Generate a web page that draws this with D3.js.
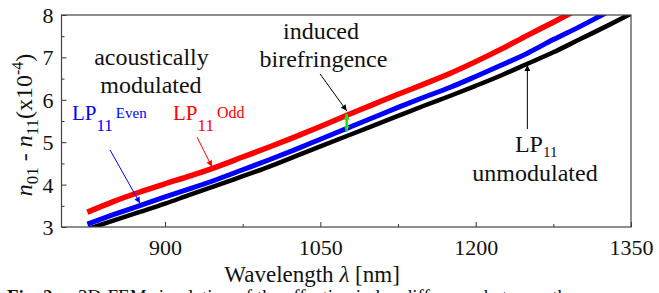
<!DOCTYPE html>
<html>
<head>
<meta charset="utf-8">
<script src="https://cdn.jsdelivr.net/npm/d3@7"></script>
<style>
  body { margin: 0; background: #fff; }
  svg text { font-family: "Liberation Serif", Tinos, "Times New Roman", Times, "DejaVu Serif", serif; }
</style>
</head>
<body>
<div id="chart"></div>
<script>
// wavelengths (nm) sampled along the curves
var wavelengths = [825, 850, 875, 900, 925, 950, 975, 1000, 1025, 1050, 1075, 1100,
                   1125, 1150, 1175, 1200, 1225, 1250, 1275, 1300, 1325, 1350];
// n01 - n11 (x10^-4)
var lpOdd   = [3.35, 3.60, 3.82, 4.02, 4.21, 4.42, 4.65, 4.88, 5.12, 5.37, 5.63, 5.88,
               6.13, 6.37, 6.62, 6.90, 7.20, 7.52, 7.83, 8.15, 8.48, 8.80];
var lpEven  = [3.07, 3.29, 3.50, 3.71, 3.91, 4.12, 4.35, 4.58, 4.82, 5.07, 5.32, 5.57,
               5.82, 6.06, 6.29, 6.55, 6.82, 7.10, 7.42, 7.72, 8.04, 8.36];
var lpUnmod = [2.95, 3.15, 3.35, 3.55, 3.77, 3.98, 4.20, 4.42, 4.66, 4.90, 5.14, 5.38,
               5.62, 5.86, 6.09, 6.33, 6.58, 6.85, 7.12, 7.42, 7.72, 8.03];

var xTicks = [900, 1050, 1200, 1350];
var xMinor = [975, 1125, 1275];
var yTicks = [3, 4, 5, 6, 7, 8];
var yMinor = [3.5, 4.5, 5.5, 6.5, 7.5];

var width = 659, height = 293;
var serif = "'Liberation Serif', Tinos, 'Times New Roman', Times, 'DejaVu Serif', serif";

var x = d3.scaleLinear().domain([800, 1350]).range([61.5, 631]);
var y = d3.scaleLinear().domain([3, 8]).range([227, 15]);

var svg = d3.select("#chart").append("svg")
  .attr("width", width)
  .attr("height", height)
  .style("font-family", serif);

// arrow heads
var defs = svg.append("defs");
function marker(id, color, len, wid) {
  defs.append("marker")
    .attr("id", id)
    .attr("markerUnits", "userSpaceOnUse")
    .attr("viewBox", "0 0 10 10")
    .attr("refX", 10).attr("refY", 5)
    .attr("markerWidth", len).attr("markerHeight", wid)
    .attr("orient", "auto-start-reverse")
    .append("path")
    .attr("d", "M0,0 L10,5 L0,10 Z")
    .attr("fill", color);
}
marker("ahBlack", "#000", 7, 6);
marker("ahBlue", "#0000ff", 7, 6);
marker("ahRed", "#ff0000", 7, 6);
marker("ahGreen", "#22dd22", 6, 9);

defs.append("clipPath").attr("id", "plotClip")
  .append("rect")
  .attr("x", x(800)).attr("y", y(8))
  .attr("width", x(1350) - x(800)).attr("height", y(3) - y(8));

// curves
var line = d3.line()
  .x(function (d) { return x(d[0]); })
  .y(function (d) { return y(d[1]); })
  .curve(d3.curveMonotoneX);

var series = [
  { values: lpUnmod, color: "#000000", w: 4.5 },
  { values: lpEven, color: "#0000ff", w: 5 },
  { values: lpOdd, color: "#ff0000", w: 5.5 }
];

var plot = svg.append("g").attr("clip-path", "url(#plotClip)");
series.forEach(function (s) {
  plot.append("path")
    .datum(wavelengths.map(function (w, i) { return [w, s.values[i]]; }))
    .attr("d", line)
    .attr("fill", "none")
    .attr("stroke", s.color)
    .attr("stroke-width", s.w)
    .attr("stroke-linejoin", "round");
});

// axes, ticks pointing inward
var fmt = d3.format("d");
var xAxis = svg.append("g")
  .attr("transform", "translate(0," + y(3) + ")")
  .call(d3.axisBottom(x).tickValues(xTicks).tickFormat(fmt)
    .tickSizeInner(-5).tickSizeOuter(0).tickPadding(12));
svg.append("g")
  .attr("transform", "translate(0," + y(3) + ")")
  .call(d3.axisBottom(x).tickValues(xMinor).tickSizeInner(-3).tickSizeOuter(0).tickFormat(""));
var yAxis = svg.append("g")
  .attr("transform", "translate(" + x(800) + ",0)")
  .call(d3.axisLeft(y).tickValues(yTicks).tickFormat(fmt)
    .tickSizeInner(-5).tickSizeOuter(0).tickPadding(8));
svg.append("g")
  .attr("transform", "translate(" + x(800) + ",0)")
  .call(d3.axisLeft(y).tickValues(yMinor).tickSizeInner(-3).tickSizeOuter(0).tickFormat(""));

svg.selectAll(".domain").remove();
svg.selectAll("g[font-family]").attr("font-family", null).attr("font-size", null);
svg.selectAll(".tick line").attr("stroke", "#333");
svg.selectAll(".tick text")
  .attr("fill", "#111")
  .style("font-family", serif)
  .style("font-size", "22px");
xAxis.selectAll(".tick text").attr("dy", "0.71em");
yAxis.selectAll(".tick text").attr("dy", "0.34em");

// frame
svg.append("rect")
  .attr("x", x(800)).attr("y", y(8))
  .attr("width", x(1350) - x(800)).attr("height", y(3) - y(8))
  .attr("fill", "none")
  .attr("stroke", "#444")
  .attr("stroke-width", 1.2);

// axis titles
var xt = svg.append("text")
  .attr("x", x(1042))
  .attr("y", 282)
  .attr("text-anchor", "middle")
  .style("font-size", "23px")
  .attr("fill", "#111");
xt.append("tspan").text("Wavelength ");
xt.append("tspan").style("font-style", "italic").text("λ");
xt.append("tspan").text(" [nm]");

var yt = svg.append("text")
  .attr("transform", "translate(32," + ((y(3) + y(8)) / 2 + 4) + ") rotate(-90)")
  .attr("text-anchor", "middle")
  .style("font-size", "24px")
  .attr("fill", "#111");
yt.append("tspan").style("font-style", "italic").text("n");
yt.append("tspan").attr("dy", 6).style("font-size", "17px").text("01");
yt.append("tspan").attr("dy", -6).text(" - ");
yt.append("tspan").style("font-style", "italic").text("n");
yt.append("tspan").attr("dy", 6).style("font-size", "17px").text("11");
yt.append("tspan").attr("dy", -6).text("(x10");
yt.append("tspan").attr("dy", -9).style("font-size", "16px").text("-4");
yt.append("tspan").attr("dy", 9).text(")");

// annotations (positions in data units)
function label(txt, lx, ly, color, size, anchor) {
  return svg.append("text")
    .attr("x", x(lx)).attr("y", y(ly))
    .attr("text-anchor", anchor || "middle")
    .attr("fill", color)
    .style("font-size", size + "px")
    .text(txt);
}
function arrow(x1, y1, x2, y2, color, mk, w) {
  svg.append("line")
    .attr("x1", x(x1)).attr("y1", y(y1))
    .attr("x2", x(x2)).attr("y2", y(y2))
    .attr("stroke", color)
    .attr("stroke-width", w || 1)
    .attr("marker-end", "url(#" + mk + ")");
}
function lp(lx, ly, color, size, subSize, sup, supSize) {
  var t = svg.append("text")
    .attr("x", x(lx)).attr("y", y(ly))
    .attr("fill", color)
    .style("font-size", size + "px");
  t.append("tspan").text("LP");
  t.append("tspan").attr("dy", 11).style("font-size", subSize + "px").text("11");
  if (sup) {
    t.append("tspan").attr("dx", 3).attr("dy", -13).style("font-size", supSize + "px").text(sup);
  }
  return t;
}

label("acoustically", 886.9, 6.82, "#111", 24);
label("modulated", 886.4, 6.17, "#111", 24);

lp(810.1, 5.52, "#0000ff", 21, 17, "Even", 15);
arrow(846.8, 4.82, 875.8, 3.56, "#0000ff", "ahBlue");

lp(907.7, 5.52, "#ff0000", 21, 17, "Odd", 16);
arrow(930.9, 5.12, 945.3, 4.42, "#ff0000", "ahRed");

label("induced", 1050.6, 7.43, "#111", 24);
label("birefringence", 1053, 6.77, "#111", 24);
arrow(1049.7, 6.61, 1075.4, 5.74, "#000", "ahBlack");

// green double arrow between odd and even at 1075 nm
var gi = wavelengths.indexOf(1075);
svg.append("line")
  .attr("x1", x(1075.4)).attr("y1", y(lpOdd[gi] + 0.04))
  .attr("x2", x(1075.4)).attr("y2", y(lpEven[gi] - 0.07))
  .attr("stroke", "#22dd22")
  .attr("stroke-width", 2.5)
  .attr("marker-start", "url(#ahGreen)")
  .attr("marker-end", "url(#ahGreen)");

var un = svg.append("text")
  .attr("x", x(1237.9)).attr("y", y(4.78))
  .attr("fill", "#111")
  .style("font-size", "24px");
un.append("tspan").text("LP");
un.append("tspan").attr("dy", 5).style("font-size", "15px").text("11");
label("unmodulated", 1257.3, 4.08, "#111", 24);
arrow(1249.9, 5.31, 1249.9, 6.82, "#000", "ahBlack");

// caption, cut off at the bottom of the picture
var cap = svg.append("text")
  .attr("x", 7).attr("y", 303)
  .attr("fill", "#111")
  .style("font-size", "19px");
cap.append("tspan").style("font-weight", "bold").text("Fig. 2.");
cap.append("tspan").attr("x", 78).text("3D-FEM simulation of the effective index difference between the");
</script>
</body>
</html>
